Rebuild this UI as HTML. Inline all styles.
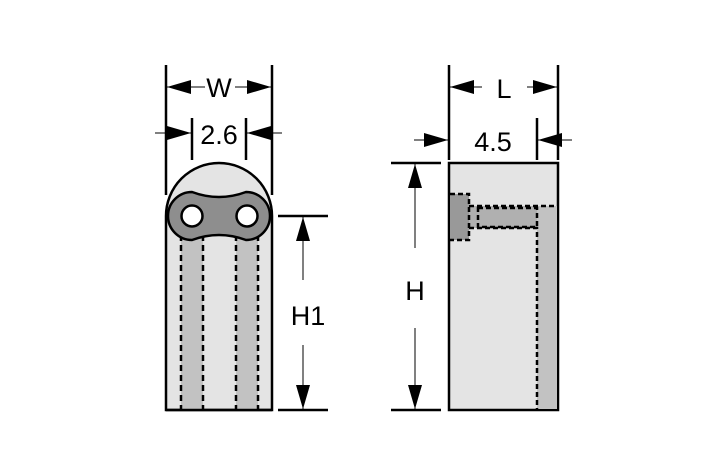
<!DOCTYPE html>
<html><head><style>body{margin:0;background:#fff}svg{display:block}</style></head><body>
<svg width="709" height="472" viewBox="0 0 709 472" xmlns="http://www.w3.org/2000/svg">
<defs>
<marker id="b" viewBox="0 0 24 14" refX="24" refY="7" markerWidth="24" markerHeight="14" markerUnits="userSpaceOnUse" orient="auto"><path d="M0,0 L24,7 L0,14 Z" fill="#000"/></marker>
</defs>
<g font-family="Liberation Sans, sans-serif" font-size="27" fill="#000">
<!-- Left body -->
<path d="M166,410 L166,216 A53,53 0 0 1 272,216 L272,410 Z" fill="#e4e4e4" stroke="#000" stroke-width="2.5"/>
<rect x="181" y="225" width="22" height="185" fill="#c2c2c2"/>
<rect x="236" y="225" width="22" height="185" fill="#c2c2c2"/>
<g stroke="#000" stroke-width="2.5" stroke-dasharray="6,4">
<line x1="181" y1="225" x2="181" y2="410"/><line x1="203" y1="225" x2="203" y2="410"/>
<line x1="236" y1="225" x2="236" y2="410"/><line x1="258" y1="225" x2="258" y2="410"/>
</g>
<path d="M192,192 Q219,202 246,192 A24,24 0 0 1 246,240 Q219,230 192,240 A24,24 0 0 1 192,192 Z" fill="#8e8e8e" stroke="#000" stroke-width="2.5"/>
<circle cx="192" cy="216" r="10.5" fill="#fff" stroke="#000" stroke-width="2.5"/>
<circle cx="247" cy="216" r="10.5" fill="#fff" stroke="#000" stroke-width="2.5"/>
<line x1="166" y1="410" x2="272" y2="410" stroke="#000" stroke-width="2.5"/>
<!-- W -->
<g stroke="#000" stroke-width="2.5">
<line x1="166" y1="65" x2="166" y2="195"/><line x1="272" y1="65" x2="272" y2="195"/>
<line x1="192" y1="118" x2="192" y2="160"/><line x1="246" y1="118" x2="246" y2="160"/>
</g>
<g stroke="#000" stroke-width="1">
<line x1="205" y1="87" x2="167" y2="87" marker-end="url(#b)"/>
<line x1="235" y1="87" x2="271" y2="87" marker-end="url(#b)"/>
<line x1="155" y1="133" x2="191" y2="133" marker-end="url(#b)"/>
<line x1="282" y1="133" x2="247" y2="133" marker-end="url(#b)"/>
</g>
<text x="219" y="97" text-anchor="middle">W</text>
<text x="219" y="144" text-anchor="middle">2.6</text>
<!-- H1 -->
<g stroke="#000" stroke-width="2.5">
<line x1="278" y1="216" x2="328" y2="216"/><line x1="278" y1="410" x2="328" y2="410"/>
</g>
<g stroke="#000" stroke-width="1">
<line x1="303" y1="280" x2="303" y2="217" marker-end="url(#b)"/>
<line x1="303" y1="345" x2="303" y2="409" marker-end="url(#b)"/>
</g>
<text x="308" y="325" text-anchor="middle">H1</text>
<!-- Right body -->
<rect x="449" y="163" width="109" height="247" fill="#e4e4e4" stroke="#000" stroke-width="2.5"/>
<rect x="537" y="206" width="20" height="203" fill="#c2c2c2"/>
<rect x="469" y="206" width="68" height="22" fill="#b0b0b0"/>
<rect x="450" y="194" width="19" height="46" fill="#999"/>
<g stroke="#000" stroke-width="2.5" stroke-dasharray="5,3" fill="none">
<path d="M450,194 L469,194 L469,240 L450,240"/>
<path d="M469,206 L558,206"/><path d="M469,228 L537,228 L537,410"/>
<rect x="478" y="208" width="59" height="19"/>
</g>
<!-- L -->
<g stroke="#000" stroke-width="2.5">
<line x1="449" y1="65" x2="449" y2="160"/><line x1="558" y1="65" x2="558" y2="160"/>
<line x1="537" y1="118" x2="537" y2="160"/>
</g>
<g stroke="#000" stroke-width="1">
<line x1="482" y1="87" x2="450" y2="87" marker-end="url(#b)"/>
<line x1="527" y1="87" x2="557" y2="87" marker-end="url(#b)"/>
<line x1="414" y1="140" x2="448" y2="140" marker-end="url(#b)"/>
<line x1="572" y1="140" x2="538" y2="140" marker-end="url(#b)"/>
</g>
<text x="504" y="98" text-anchor="middle">L</text>
<text x="493" y="151" text-anchor="middle">4.5</text>
<!-- H -->
<g stroke="#000" stroke-width="2.5">
<line x1="391" y1="163" x2="441" y2="163"/><line x1="391" y1="410" x2="441" y2="410"/>
</g>
<g stroke="#000" stroke-width="1">
<line x1="415" y1="248" x2="415" y2="164" marker-end="url(#b)"/>
<line x1="415" y1="328" x2="415" y2="409" marker-end="url(#b)"/>
</g>
<text x="415" y="300" text-anchor="middle">H</text>
</g>
</svg>
</body></html>
